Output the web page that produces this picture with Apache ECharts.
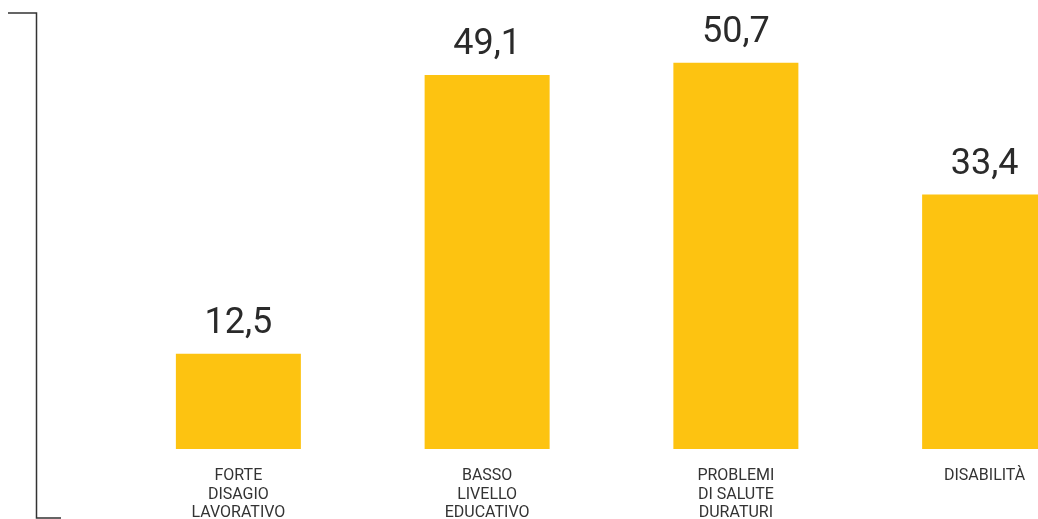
<!DOCTYPE html>
<html><head><meta charset="utf-8">
<script src="https://cdn.jsdelivr.net/npm/echarts@6/dist/echarts.min.js"></script>
<style>html,body{margin:0;padding:0;background:#fff}#c{width:1038px;height:519px}</style>
</head><body><div id="c"></div>
<script>
const categories = ["FORTE\nDISAGIO\nLAVORATIVO", "BASSO\nLIVELLO\nEDUCATIVO", "PROBLEMI\nDI SALUTE\nDURATURI", "DISABILITÀ"];
const values = [12.5, 49.1, 50.7, 33.4];

const chart = echarts.init(document.getElementById('c'), null, {renderer: 'canvas'});
chart.setOption({
  animation: false,
  grid: {left: 114, width: 995, top: 30, height: 419, containLabel: false, outerBoundsMode: 'none'},
  xAxis: {
    type: 'category', data: categories,
    axisLine: {show: false}, axisTick: {show: false},
    axisLabel: {fontFamily: 'Roboto', fontSize: 16, color: '#333', lineHeight: 18.5, margin: 18, verticalAlign: 'top', interval: 0}
  },
  yAxis: {type: 'value', min: 0, max: 55, show: false, splitLine: {show: false}},
  series: [{
    type: 'bar', data: values, barWidth: 125,
    itemStyle: {color: '#FDC311'},
    label: {
      show: true, position: 'top', distance: 12,
      fontFamily: 'Roboto', fontWeight: 'normal', fontSize: 36, color: '#2a2a2a',
      formatter: p => String(p.value).replace('.', ',')
    }
  }],
  graphic: [{
    type: 'polyline', silent: true,
    shape: {points: [[8, 13], [36.5, 13], [36.5, 518], [61, 518]]},
    style: {stroke: '#333', lineWidth: 1.5, fill: null}
  }]
});
</script></body></html>
